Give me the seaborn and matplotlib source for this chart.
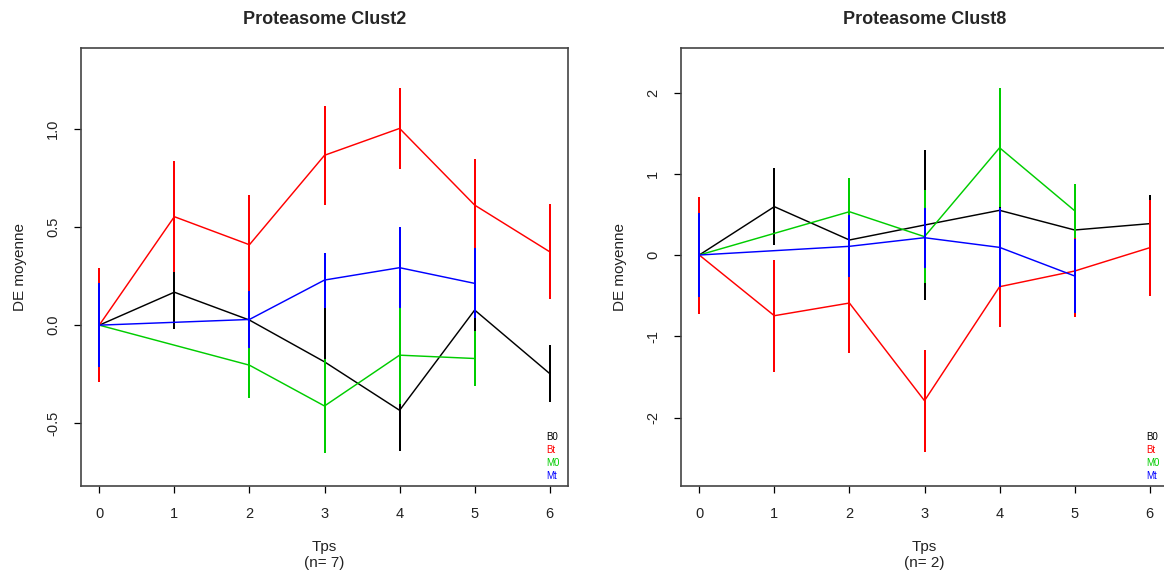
import numpy as np
import pandas as pd
import matplotlib
matplotlib.use("Agg")
import matplotlib.pyplot as plt
import seaborn as sns
from matplotlib.lines import Line2D

# ---------------- data ----------------
tps = [0, 1, 2, 3, 4, 5, 6]
groups = ["B0", "Bt", "M0", "Mt"]
colors = {"B0": "#000000", "Bt": "#FF0000", "M0": "#00CD00", "Mt": "#0000FF"}
nan = np.nan

# Proteasome Clust2 (n = 7)
c2_B0_mean = [0, 0.168, 0.026, -0.187, -0.434, 0.077, -0.247]
c2_B0_err = [0.20, 0.19, 0.12, 0.28, 0.21, 0.15, 0.145]
c2_Bt_mean = [0, 0.553, 0.41, 0.866, 1.003, 0.612, 0.374]
c2_Bt_err = [0.29, 0.284, 0.253, 0.253, 0.205, 0.235, 0.243]
c2_M0_mean = [0, nan, -0.204, -0.412, -0.153, -0.17, nan]
c2_M0_err = [0.15, nan, 0.165, 0.24, 0.247, 0.141, nan]
c2_Mt_mean = [0, nan, 0.029, 0.23, 0.293, 0.213, nan]
c2_Mt_err = [0.214, nan, 0.146, 0.14, 0.207, 0.178, nan]

# Proteasome Clust8 (n = 2)
c8_B0_mean = [0, 0.595, 0.185, 0.369, 0.55, 0.308, 0.386]
c8_B0_err = [0.50, 0.47, 0.30, 0.92, 0.50, 0.30, 0.35]
c8_Bt_mean = [0, -0.747, -0.591, -1.793, -0.39, -0.197, 0.09]
c8_Bt_err = [0.72, 0.69, 0.61, 0.63, 0.50, 0.57, 0.59]
c8_M0_mean = [0, nan, 0.533, 0.226, 1.32, 0.545, nan]
c8_M0_err = [0.40, nan, 0.41, 0.57, 0.73, 0.33, nan]
c8_Mt_mean = [0, nan, 0.107, 0.213, 0.094, -0.258, nan]
c8_Mt_err = [0.52, nan, 0.38, 0.37, 0.49, 0.45, nan]

titles = ["Proteasome Clust2", "Proteasome Clust8"]
n_labels = ["(n= 7)", "(n= 2)"]
c2_yticks = [-0.5, 0.0, 0.5, 1.0]
c2_yticklabels = ["-0.5", "0.0", "0.5", "1.0"]
c8_yticks = [-2, -1, 0, 1, 2]
c8_yticklabels = ["-2", "-1", "0", "1", "2"]


def build(means, errs):
    rows = []
    for g in groups:
        for t, m, e in zip(tps, means[g], errs[g]):
            rows.append({"Tps": t, "group": g, "mean": m, "err": e})
    return pd.DataFrame(rows)


df2 = build({"B0": c2_B0_mean, "Bt": c2_Bt_mean, "M0": c2_M0_mean, "Mt": c2_Mt_mean},
            {"B0": c2_B0_err, "Bt": c2_Bt_err, "M0": c2_M0_err, "Mt": c2_Mt_err})
df8 = build({"B0": c8_B0_mean, "Bt": c8_Bt_mean, "M0": c8_M0_mean, "Mt": c8_Mt_mean},
            {"B0": c8_B0_err, "Bt": c8_Bt_err, "M0": c8_M0_err, "Mt": c8_Mt_err})

# ---------------- style ----------------
sns.set_theme(style="white")
plt.rcParams["font.family"] = ["Liberation Sans", "DejaVu Sans"]
plt.rcParams["axes.unicode_minus"] = False

W, H = 1164, 575
fig = plt.figure(figsize=(W / 100, H / 100), dpi=100)
fig.patch.set_facecolor("white")

ax_left = fig.add_axes([81 / W, 1 - 486 / H, 487 / W, 438 / H])
ax_right = fig.add_axes([681 / W, 1 - 486 / H, 487 / W, 438 / H])

panels = [
    (ax_left, df2, (-0.82, 1.413), c2_yticks, c2_yticklabels, titles[0], n_labels[0]),
    (ax_right, df8, (-2.843, 2.548), c8_yticks, c8_yticklabels, titles[1], n_labels[1]),
]

for ax, df, ylim, yt, ytl, title, nlab in panels:
    for i, g in enumerate(groups):
        sub = df[df["group"] == g].dropna()
        z = 2 + 2 * i
        sns.lineplot(data=sub, x="Tps", y="mean", color=colors[g], lw=1.05,
                     ax=ax, legend=False, errorbar=None, sort=True, zorder=z)
        ax.vlines(sub["Tps"], sub["mean"] - sub["err"], sub["mean"] + sub["err"],
                  color=colors[g], lw=1.1, zorder=z + 1, antialiased=False)

    ax.set_xlim(-0.243, 6.243)
    ax.set_ylim(*ylim)
    ax.set_xticks(tps)
    ax.set_xticklabels([str(t) for t in tps])
    ax.set_yticks(yt)
    ax.set_yticklabels(ytl, rotation=90, va="center")
    ax.tick_params(axis="both", direction="out", length=5, width=0.9,
                   color="black", labelsize=10.5, pad=10, bottom=True, left=True,
                   labelcolor="#222222")
    for s in ax.spines.values():
        s.set_visible(True)
        s.set_color("#444444")
        s.set_linewidth(1.2)
        s.set_zorder(20)

    ax.set_title(title, fontsize=13, fontweight="bold", pad=17)
    ax.set_xlabel("Tps\n" + nlab, fontsize=11, labelpad=14, linespacing=1.15,
                  color="#222222")
    ax.set_ylabel("DE moyenne", fontsize=11, labelpad=14, color="#222222")

    handles = [Line2D([], [], color=colors[g], lw=0) for g in groups]
    leg = ax.legend(handles, groups, loc="lower left", bbox_to_anchor=(0.955, 0.012),
                    frameon=False, handlelength=0, handletextpad=0, borderpad=0,
                    borderaxespad=0, labelspacing=0.3, fontsize=7,
                    labelcolor=[colors[g] for g in groups])
    leg.set_zorder(30)

fig.savefig("out.png", dpi=100, facecolor="white")
